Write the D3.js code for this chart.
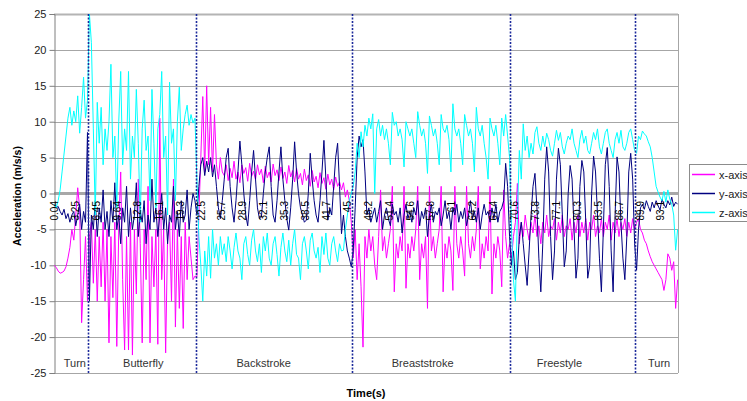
<!DOCTYPE html>
<html>
<head>
<meta charset="utf-8">
<script src="https://cdn.jsdelivr.net/npm/d3@7"></script>
<style>
  html, body { margin: 0; padding: 0; background: #fff; }
  svg { display: block; font-family: Arial, "Liberation Sans", sans-serif; }
</style>
</head>
<body>
<svg width="747" height="401"></svg>
<script>
const sampleStep = 0.3;
const startTime = 0.04;

const timeLabels = ["0.04", "3.25", "6.45", "9.64", "12.8", "16.1", "19.3", "22.5", "25.7", "28.9",
    "32.1", "35.3", "38.5", "41.7", "45", "48.2", "51.4", "54.6", "57.8", "61",
    "64.2", "67.4", "70.6", "73.8", "77.1", "80.3", "83.5", "86.7", "89.9", "93.1"];

const yTicks = [-25, -20, -15, -10, -5, 0, 5, 10, 15, 20, 25];

const phaseNames = ["Turn", "Butterfly", "Backstroke", "Breaststroke", "Freestyle", "Turn"];
const phaseLabelTimes = [3.2, 13.7, 32.2, 56.6, 77.6, 92.9];
const phaseBreaks = [5.2, 21.8, 45.75, 70.0, 89.2];

const seriesNames = ["x-axis", "y-axis", "z-axis"];
const seriesColors = ["#ff00ff", "#000080", "#00ffff"];

const xAccel = [
    // turn
    -10, -10.3, -10.8, -11.1, -11, -10.8, -10.2, -9, -7.5, -5, -6.5, -3, 0.8, -2, -18, -12, -6, -15,
    // butterfly
    -6, -4, -12.5, -5, -15, -6, -13, -4, -15, -5,
    -20.8, -6, -14.5, -4, -21.3, -5, 3, -12, -21.8, -6,
    -21.8, -4, -22.5, -5, -14, 2, -7, -20.8, -5, -12,
    1, -20.8, -6, -13, -5, -21, 10.5, -12, -5, -22.2,
    -6, -4, -15, 2, -18.6, -5, -16, -6, -18.8, -4,
    -12, -6, -9, -12, -11.5,
    // backstroke
    -11.6, -3, 5, 13.5, 3, 15, 4, 12, 3, 11, 4, 2, 5, 3,
    2.5, 4, 1.8, 3.5, 2.2, 4.5, 2, 3, 1.5, 4,
    2.8, 3.6, 1.7, 4.2, 2.4, 3.1, 1.9, 4, 2.6, 3.4,
    1.5, 3.8, 2.2, 3, 1.6, 4.1, 2.5, 3.3, 1.8, 3.7,
    2.1, 3, 1.4, 3.9, 2.3, 3.2, 1.6, 3.5, 2, 2.8,
    1.2, 3.4, 1.8, 2.6, 1, 3.2, 1.6, 2.4, 0.8, 2.9,
    1.4, 2.2, 0.6, 2.7, 1.2, 2, 0.5, 2.3, 1, 1.6,
    0.5, 1.5, -0.5, 0.5, -1, -4,
    // breaststroke
    -9, -5, -12, -7, -13, -21.4, -6, -9, -5, -8,
    -6, -10, -12, -6, 0.5, -8, -6, -9, -7, -5,
    1, -13.7, -7, -9, -6, -8, 1, -13.2, -7, -9,
    -6, -8, -5, 1, -12, -7, -9, -6, -16, 1,
    -8, -6, -9, -7, -5, 1, -13.7, -7, -9, -6,
    -8, -13.5, 1, -7, -9, -6, -8, -11.5, 1, -7,
    -9, -6, -8, -5, 1, -10.5, -7, -9, -6, -8,
    1, -14, -7, -9, -6, -8, -13, 0.5, -6, -9,
    -7,
    // freestyle
    -9, -6, -4, 1.4, -7, -4, -6, -3, -5, -6.5,
    -4, -5.5, -3, -6, -4.5, -7, -4, -5.5, -3, -6,
    -4.5, -5, -3.5, -6.5, -4, -5.5, -3, -6, -4.5, -5,
    -3.5, -6.5, -4, -5.5, -3, -6, -4, -5.5, -3.5, -6.5,
    -4, -5, -3, -6, -4.5, -5.5, -3.5, -6, -4, -5,
    -3, -6.5, -4, -5.5, -3.5, -6, -4, -5, -3.5, -6,
    -4, -5.5, -3.5, -5,
    // turn
    -4, -3.5, -5, -5.5, -6.5, -7, -8, -8.8, -9.5, -10, -10.5, -11, -11.5,
    -12, -13.5, -12, -8.4, -9, -10.7, -9.5, -16, -12
];

const yAccel = [
    // turn
    -1.5, -2, -1.8, -2.5, -3, -2.2, -3.5, -2.8, -4, -3, -2.5, -4.5, -3, -1.5, -5, -2.5, -4, 8.5,
    // butterfly
    -15,
    -3, -5, -1, -6, -2, -4, 0.5, -5, -2.5, -6,
    -1, -4, 1.5, -5, -3, -7, -2, -4, 1, -6,
    -2, -5, -3, 1.5, -6, -2.5, -4, -1, -7, -3,
    -5, 2, -4, -2, -6, -3, 0, -5, -2, -7,
    -3, -4, 1, -5, -2.5, -6, -1, -4, -3, 0.5,
    -5, -2, 0, -1,
    // backstroke
    -3, 1, 4, 5, 2.5, 4.5, 3, 5, 2.3, 4,
    1, -2, -3.5, -1, 2, 5, 6.3, 1, -2, -4,
    -1, 3, 7.3, 4, 0, -3, -4.5, -1, 3, 6,
    2, -2, -3.5, -3.3, 0, 3, 5, 6.5, 1, -3,
    -4, -1, 3, 6.5, 2, -1, -3.5, -5.1, -2, 2,
    7.2, 3, 0, -2, -3, -4, -3.7, 0, 5.6, 2,
    -1, -3, -4, -1, 3, 7.4, 2, -3.7, -2, -3,
    1, 5, 7, 1, -5.6, -3, -6, -8, -9, -10.2,
    // breaststroke
    -8, -2, 5, 8, 6.5, 7.5, 3, -3, -2, -4,
    -3, -2, -4, -2.5, -1, -5, -3, -2, -3.5, -4.5,
    -1.5, -3, -2.5, -4, -2, -5.5, -3, -1.5, -3.5, -2.5,
    -4, -2, -3, -1, -4.5, -2.5, -3.5, -2, -6, -3,
    -1.5, -4, -2.5, -3, -2, -4.5, -3, -1, -3.5, -2.5,
    -5, -2, -3, -1.5, -4, -2.5, -3.5, -2, -4.5, -3,
    -1, -3.5, -2.5, -4, -2, -5, -3, -1.5, -3, -2.5,
    -4, -2, -3.5, -1.5, -4, -2.5, -2,
    -1, 4.2, 1, -6,
    // freestyle
    -10, -8, -12, -11, -6, -4, -7, -10, -12.8, -8,
    -3, 1, 2.8, -2, -9, -13.7, -7, 2, 6.5, 3,
    -6, -12, -8, 2, 6.3, 4, -3, -10.2, -8, 0,
    3.9, 2, -5, -11.8, -9, 1, 4.6, 3, -4, -11.8,
    -10, 0, 5.2, 3, -3, -9, -13.7, -5, 4, 6.4,
    1, -8, -13.7, -3, 5.1, 3, -4, -9, -12, -6,
    3, 5.6, 2, -7,
    // turn
    -10.7, -5, -2,
    -1.5, -2.2, -1, -1.8, -2.5, -1.2, -2, -1, -1.7, -2.3,
    -0.8, -1.5, -2, -1, -1.6, -0.5, -1.8, -1.2, -1.5
];

const zAccel = [
    // turn
    -1.5, -2, -1, 0.5, 3, 5.5, 8, 10.5, 12, 9.5, 11.5, 10, 13.6, 8.4, 12, 16.2, 10.5, 13,
    // butterfly
    25, 21, 9, -3, 12.7, 7, 12, 4, 9, 6,
    10, 18, 5, 8, -2, 10, 17, 4, 9, 6,
    17, 2, 8, 5, 14.5, 7, -4, 9, 13, 6,
    8, -1, 14.5, 7, -2, 9, 11, 17, 5, 8,
    -3, 15.5, 7, 9, -1, 10, 14.8, 6, 9, 11,
    12.3, 9.5, 11, 9.8, 10.5,
    // backstroke
    2, -6, -10, -15, -8, -11.5, -6, -11.8, -5, -9, -7, -10, -6, -8.5,
    -7, -9.5, -6, -8, -10.5, -7.5, -5.5, -8, -9, -12,
    -7, -6, -8.5, -10, -6.5, -5, -8, -9.5, -7, -11,
    -6, -8, -5.5, -9, -10, -7, -6, -8.5, -11.5, -7.5,
    -5.5, -8, -9.5, -6.5, -10, -7, -5, -8.5, -9, -12,
    -7, -6, -8, -10.5, -6.5, -5.5, -8, -9, -7.5, -11,
    -6, -8.5, -5.5, -9, -10, -7, -6, -8, -9.5, -7,
    -8, -7.9, -5, -3, -1, 0,
    // breaststroke
    1, 3, 7, 5, 8.6, 6.5, 9.5, 8, 10.5, 9,
    11.1, 0, 9, 10.3, 8, 9.5, 7.5, 9, 7, 4,
    11.3, 9.5, 10, 8, 9, 7.5, 3.7, 10, 9, 8,
    9, 7, 5, 11.4, 9.5, 8, 9, 7, 2.8, 10.8,
    9.5, 8, 9, 7, 4, 11, 9, 8.5, 9.5, 7.5,
    3, 12.5, 9, 8, 9, 7, 4, 11, 9.5, 8,
    9, 7, 3, 12, 9, 8, 9.5, 7, 5, 2,
    10.5, 9, 8, 9.5, 7, 4, 10.5, 8, 11, 8,
    5,
    // freestyle
    -5, -12, -15, -3, 6, 2, 9.7, 6, 8, 5,
    7, 5.5, 8.5, 9.3, 7, 6, 8, 6.5, 8.4, 7.5,
    6, 5.2, 7, 8.8, 7.4, 8.5, 6.5, 5.5, 7, 8,
    7.5, 9, 7, 6, 5, 7.5, 8.8, 7, 8, 6,
    5.5, 7, 8.5, 7.5, 9, 6.5, 5.5, 7, 8.5, 9,
    7, 6, 5, 7.5, 8.5, 7, 8.8, 6.5, 6, 7,
    8.5, 9, 7.5, 6,
    // turn
    5.6, 8, 7.5, 8.7, 8.3, 8, 7.2, 6.5, 5, 3, 1,
    0.2, -0.5, -1, 0.3, -1.2, 0.5, -0.8, -1.5, -3, -7.9, -5
];

const svg = d3.select('svg');

const plot = { left: 54, right: 678, top: 14, bottom: 373 };

const xScale = d3.scaleLinear()
    .domain([0, 95.8])
    .range([plot.left, plot.right]);

const yScale = d3.scaleLinear()
    .domain([-25, 25])
    .range([plot.bottom, plot.top]);

// gridlines
svg.append('g')
    .selectAll('line')
    .data(yTicks.filter(d => d !== 0))
    .enter().append('line')
    .attr('x1', plot.left)
    .attr('x2', plot.right)
    .attr('y1', d => Math.round(yScale(d)) + 0.5)
    .attr('y2', d => Math.round(yScale(d)) + 0.5)
    .attr('stroke', d => d === 25 ? '#b4b4b4' : '#a6a6a6')
    .attr('stroke-width', d => d === 25 ? 2 : 1);

// right border of the plot area
svg.append('line')
    .attr('x1', plot.right + 0.5).attr('x2', plot.right + 0.5)
    .attr('y1', plot.top).attr('y2', plot.bottom)
    .attr('stroke', '#a6a6a6');

// category axis sits on zero
svg.append('line')
    .attr('x1', plot.left).attr('x2', plot.right)
    .attr('y1', yScale(0)).attr('y2', yScale(0))
    .attr('stroke', '#a8a8a8')
    .attr('stroke-width', 3);

// y axis
const yAxis = d3.axisLeft(yScale)
    .tickValues(yTicks)
    .tickSize(5)
    .tickPadding(3)
    .tickFormat(d => String(d));

const yAxisG = svg.append('g')
    .attr('transform', 'translate(' + [plot.left + 0.5, 0] + ')')
    .call(yAxis);
yAxisG.select('.domain').attr('stroke', '#7f7f7f');
yAxisG.selectAll('.tick line').attr('stroke', '#7f7f7f');
yAxisG.selectAll('.tick text')
    .attr('fill', '#222')
    .style('font-size', '11px')
    .style('font-family', 'Arial, "Liberation Sans", sans-serif');

// series
svg.append('defs').append('clipPath').attr('id', 'plotClip')
    .append('rect')
    .attr('x', plot.left).attr('y', plot.top - 1)
    .attr('width', plot.right - plot.left).attr('height', plot.bottom - plot.top + 1);

const line = d3.line()
    .x((d, i) => xScale(startTime + i * sampleStep))
    .y(d => yScale(d));

[xAccel, yAccel, zAccel].forEach((values, k) => {
    svg.append('path')
        .datum(values)
        .attr('clip-path', 'url(#plotClip)')
        .attr('fill', 'none')
        .attr('stroke', seriesColors[k])
        .attr('stroke-width', 1)
        .attr('stroke-linejoin', 'round')
        .attr('d', line);
});

// phase dividers
svg.append('g')
    .selectAll('line')
    .data(phaseBreaks)
    .enter().append('line')
    .attr('x1', d => Math.round(xScale(d)) + 0.5)
    .attr('x2', d => Math.round(xScale(d)) + 0.5)
    .attr('y1', plot.top)
    .attr('y2', plot.bottom)
    .attr('stroke', '#1c2a9c')
    .attr('stroke-width', 1.6)
    .attr('stroke-dasharray', '2,1.5');

// phase names
svg.append('g')
    .selectAll('text')
    .data(phaseNames)
    .enter().append('text')
    .attr('x', (d, i) => xScale(phaseLabelTimes[i]))
    .attr('y', 367)
    .attr('text-anchor', 'middle')
    .attr('fill', '#333')
    .style('font-size', '11px')
    .text(d => d);

// category labels, rotated, hanging below the zero line
svg.append('g')
    .selectAll('text')
    .data(timeLabels)
    .enter().append('text')
    .attr('transform', d => 'translate(' + [xScale(+d) + 4, 201] + ') rotate(-90)')
    .attr('text-anchor', 'end')
    .attr('fill', '#000')
    .style('font-size', '10px')
    .text(d => d);

// axis titles
svg.append('text')
    .attr('transform', 'translate(' + [21, 196] + ') rotate(-90)')
    .attr('text-anchor', 'middle')
    .style('font-size', '10.5px')
    .style('font-weight', 'bold')
    .text('Acceleration (m/s/s)');

svg.append('text')
    .attr('x', 366)
    .attr('y', 397)
    .attr('text-anchor', 'middle')
    .style('font-size', '11px')
    .style('font-weight', 'bold')
    .text('Time(s)');

// legend
const legend = svg.append('g');
legend.append('rect')
    .attr('x', 689.5).attr('y', 164.5)
    .attr('width', 80).attr('height', 57)
    .attr('fill', '#fff')
    .attr('stroke', '#8c8c8c');

const entries = legend.selectAll('g.entry')
    .data(seriesNames)
    .enter().append('g')
    .attr('class', 'entry')
    .attr('transform', (d, i) => 'translate(' + [0, 174 + i * 19] + ')');

entries.append('line')
    .attr('x1', 692).attr('x2', 715)
    .attr('y1', 0.5).attr('y2', 0.5)
    .attr('stroke', (d, i) => seriesColors[i])
    .attr('stroke-width', 1.5);

entries.append('text')
    .attr('x', 719)
    .attr('y', 4.5)
    .attr('fill', '#222')
    .style('font-size', '11px')
    .text(d => d);
</script>
</body>
</html>
